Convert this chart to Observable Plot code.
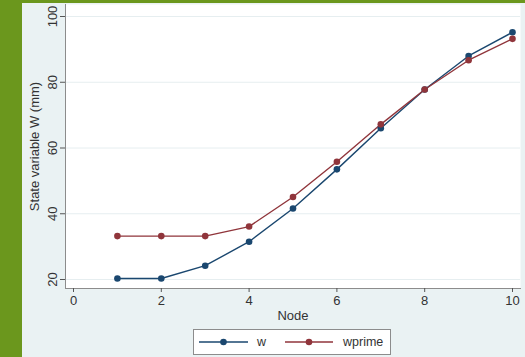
<!DOCTYPE html>
<html><head><meta charset="utf-8">
<script src="https://cdn.jsdelivr.net/npm/d3@7"></script>
<script src="https://cdn.jsdelivr.net/npm/@observablehq/plot@0.6"></script>
<style>
html,body{margin:0;padding:0;}
body{width:525px;height:357px;background:#6b971d;position:relative;overflow:hidden;font-family:"Liberation Sans",Arial,sans-serif;}
#panel{position:absolute;left:22px;top:3px;width:503px;height:354px;background:#eaf2f3;}
#chart{position:absolute;left:0;top:0;}
#legend{position:absolute;left:171px;top:326px;width:198px;height:26px;background:#fff;box-sizing:border-box;border:1px solid #8c8c8c;}
#legend svg{display:block;}
</style></head><body>
<div id="panel"><div id="chart"></div><div id="legend"></div></div>
<script>
const nodes = [1, 2, 3, 4, 5, 6, 7, 8, 9, 10];
const w = [20.3, 20.3, 24.2, 31.5, 41.6, 53.5, 66.0, 77.8, 88.0, 95.2];
const wprime = [33.2, 33.2, 33.2, 36.1, 45.1, 55.8, 67.2, 77.8, 86.7, 93.2];
const seriesNames = ["w", "wprime"];
const seriesColors = ["#1a476f", "#90353b"];
const xTicks = [0, 2, 4, 6, 8, 10];
const yTicks = [20, 40, 60, 80, 100];
const xTitle = "Node";
const yTitle = "State variable W (mm)";

const seriesValues = [w, wprime];
const data = [];
seriesNames.forEach((s, i) => nodes.forEach((n, j) => data.push({node: n, value: seriesValues[i][j], series: s})));

const axisColor = "#8c8c8c";
const chart = Plot.plot({
  width: 503, height: 322,
  marginLeft: 43, marginRight: 5, marginTop: 1, marginBottom: 37,
  insetLeft: 8, insetRight: 8, insetTop: 12, insetBottom: 9,
  style: {background: "transparent", fontFamily: "'Liberation Sans', Arial, sans-serif", fontSize: "13px", color: "#333"},
  x: {domain: [0, 10]},
  y: {domain: [20, 100]},
  color: {domain: seriesNames, range: seriesColors},
  marks: [
    Plot.frame({fill: "white", stroke: null}),
    Plot.gridY(yTicks, {stroke: "#e6eef0", strokeOpacity: 1, strokeWidth: 1}),
    Plot.frame({anchor: "left", stroke: axisColor}),
    Plot.frame({anchor: "bottom", stroke: axisColor}),
    Plot.axisY(yTicks, {tickSize: 5, tickPadding: 4, tickRotate: -90, stroke: "#555", label: yTitle, labelAnchor: "center", labelArrow: "none", labelOffset: 36, fontSize: 13}),
    Plot.axisX(xTicks, {tickSize: 4, tickPadding: 3, stroke: "#555", label: xTitle, labelAnchor: "center", labelArrow: "none", labelOffset: 31, fontSize: 13}),
    Plot.line(data, {x: "node", y: "value", z: "series", stroke: "series", strokeWidth: 1.4}),
    Plot.dot(data, {x: "node", y: "value", fill: "series", r: 3.3})
  ]
});
document.getElementById("chart").appendChild(chart);

// legend
const lg = d3.select("#legend").append("svg").attr("width", 196).attr("height", 24);
const items = [{x1: 5, x2: 54, tx: 63}, {x1: 91, x2: 139, tx: 149}];
seriesNames.forEach((s, i) => {
  const it = items[i];
  lg.append("line").attr("x1", it.x1).attr("x2", it.x2).attr("y1", 12).attr("y2", 12).attr("stroke", seriesColors[i]).attr("stroke-width", 1.4);
  lg.append("circle").attr("cx", (it.x1 + it.x2) / 2).attr("cy", 12).attr("r", 3.3).attr("fill", seriesColors[i]);
  lg.append("text").attr("x", it.tx).attr("y", 12).attr("dy", "0.35em").attr("font-size", 12.5).attr("fill", "#333").attr("font-family", "'Liberation Sans', Arial, sans-serif").text(s);
});
</script>
</body></html>
